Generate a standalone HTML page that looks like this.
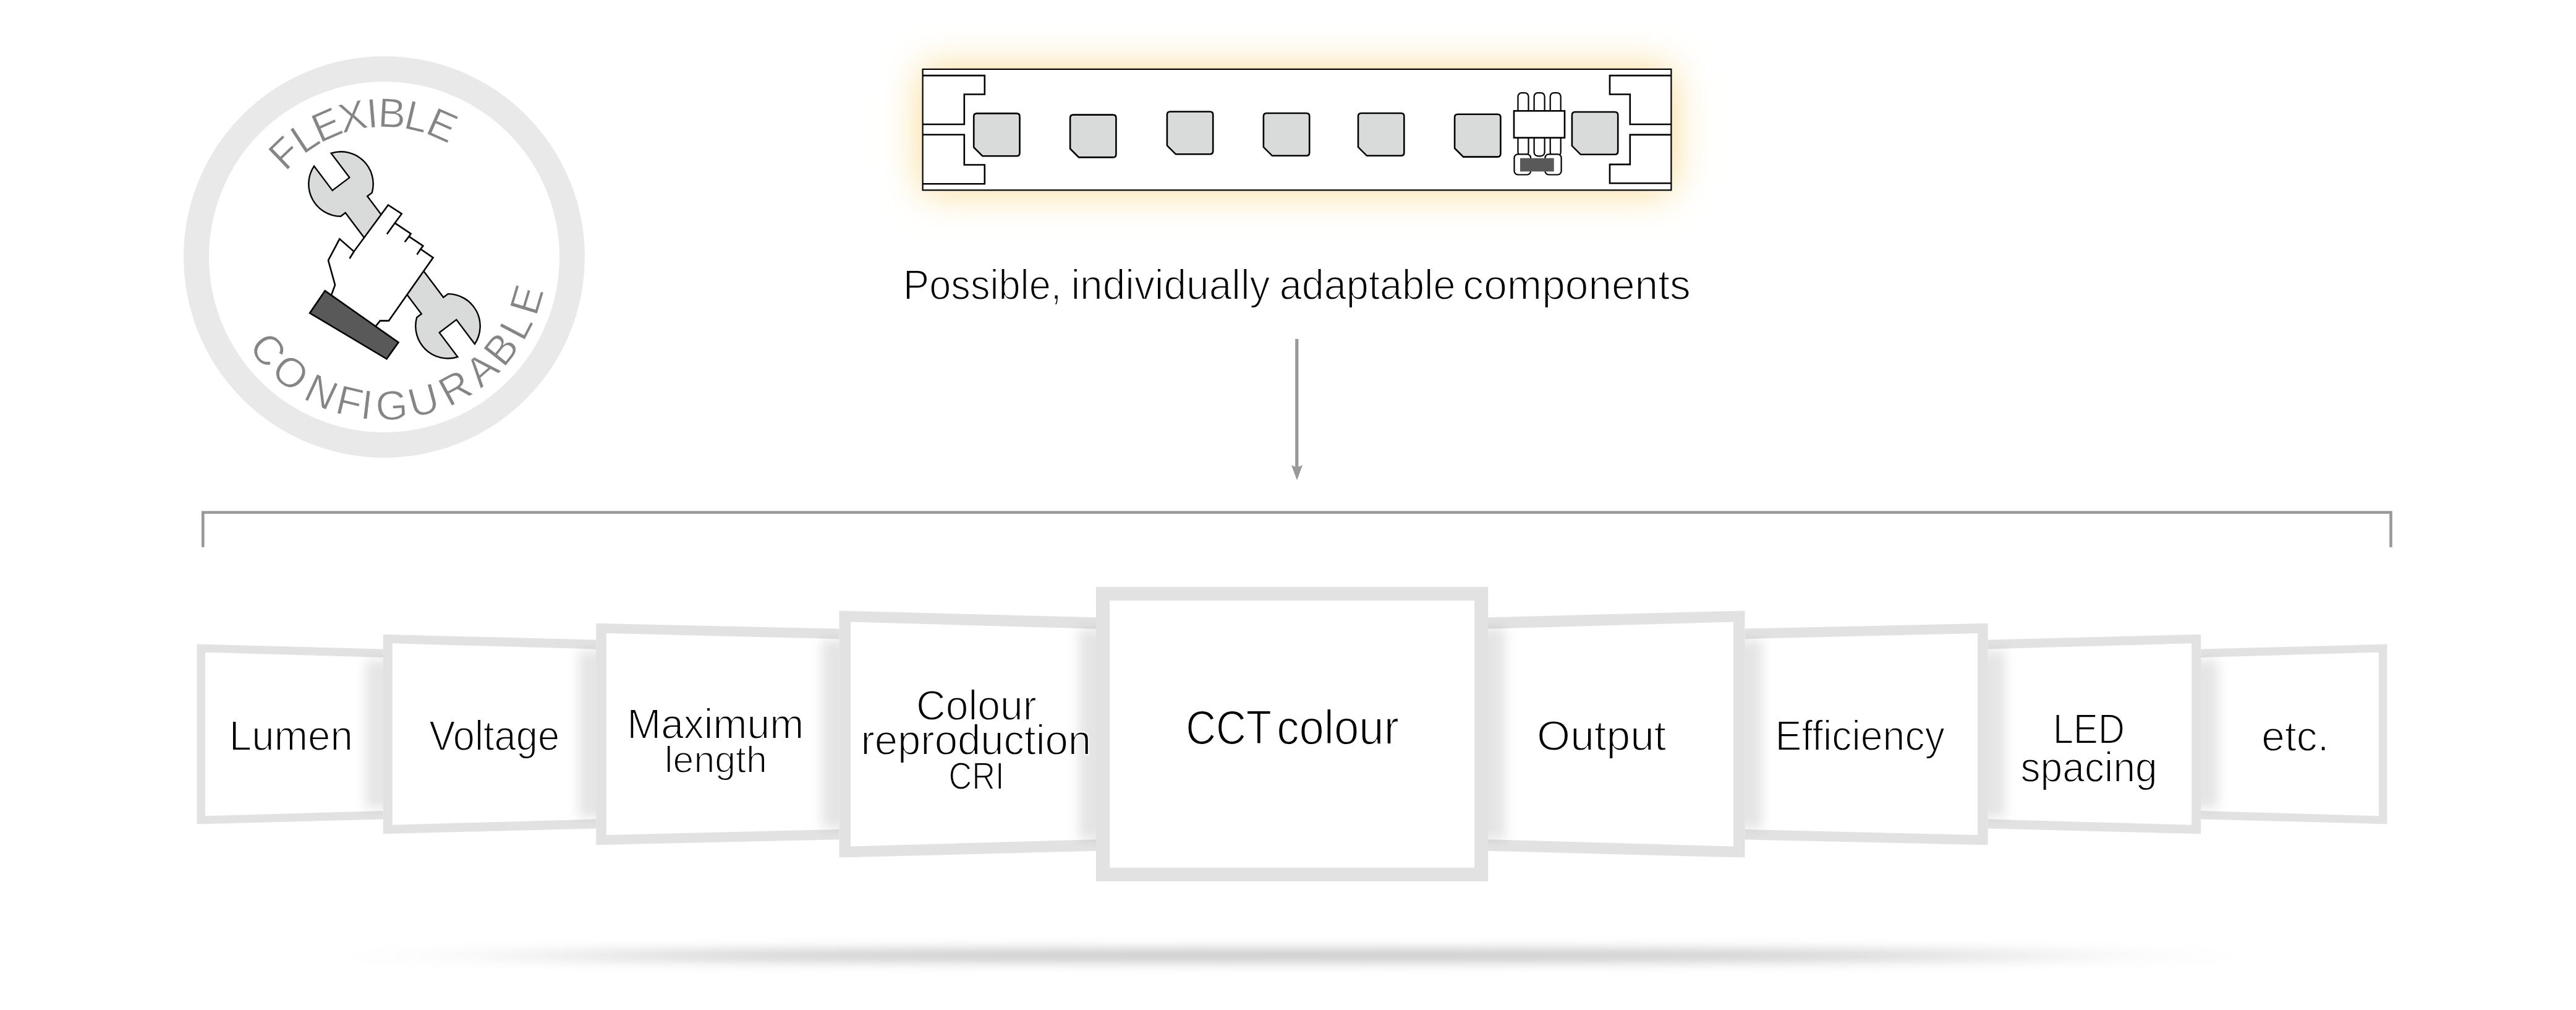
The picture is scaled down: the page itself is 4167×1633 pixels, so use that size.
<!DOCTYPE html>
<html><head><meta charset="utf-8"><style>
html,body{margin:0;padding:0;background:#fff;overflow:hidden;}
svg{display:block;}
.bt{font-family:"Liberation Sans", sans-serif;font-size:67px;fill:#858585;stroke:#fff;stroke-width:1px;}
.pt{font-family:"Liberation Sans", sans-serif;fill:#000;stroke:#fff;stroke-width:1.8px;}
</style></head><body>
<svg width="4167" height="1633" viewBox="0 0 4167 1633">
<defs>
<filter id="glow" x="-20%" y="-80%" width="140%" height="260%"><feFlood flood-color="#f9d98a"/><feComposite in2="SourceAlpha" operator="in"/><feGaussianBlur stdDeviation="33"/></filter>
<filter id="sh" x="-100%" y="-50%" width="300%" height="200%"><feGaussianBlur stdDeviation="9"/></filter>
<filter id="flb" x="-20%" y="-600%" width="140%" height="1300%"><feGaussianBlur stdDeviation="170 10"/></filter>
<clipPath id="cp0"><polygon points="318.50,1041.60 619.80,1049.40 619.80,1324.60 318.50,1332.40"/></clipPath>
<clipPath id="cp1"><polygon points="619.80,1025.70 964.30,1034.50 964.30,1339.50 619.80,1348.30"/></clipPath>
<clipPath id="cp2"><polygon points="964.30,1007.80 1357.50,1016.60 1357.50,1357.40 964.30,1366.20"/></clipPath>
<clipPath id="cp3"><polygon points="1357.50,987.40 1773.00,998.30 1773.00,1375.70 1357.50,1386.60"/></clipPath>
<clipPath id="cp0m"><polygon points="3861.50,1041.60 3560.20,1049.40 3560.20,1324.60 3861.50,1332.40"/></clipPath>
<clipPath id="cp1m"><polygon points="3560.20,1025.70 3215.70,1034.50 3215.70,1339.50 3560.20,1348.30"/></clipPath>
<clipPath id="cp2m"><polygon points="3215.70,1007.80 2822.50,1016.60 2822.50,1357.40 3215.70,1366.20"/></clipPath>
<clipPath id="cp3m"><polygon points="2822.50,987.40 2407.00,998.30 2407.00,1375.70 2822.50,1386.60"/></clipPath>
</defs>
<rect width="4167" height="1633" fill="#fff"/>
<ellipse cx="2090" cy="1545" rx="1250" ry="9" fill="#000" fill-opacity="0.27" filter="url(#flb)"/>
<circle cx="621.5" cy="415.5" r="304" fill="none" stroke="#e9e9e9" stroke-width="41"/>
<path d="M535.70,247.74 L565.32,287.09 L537.68,307.91 L508.05,268.56 A52.2,52.2 0 0 0 551.16,349.70 L558.72,344.01 L681.79,507.49 L674.23,513.18 A52.2,52.2 0 0 0 740.29,577.05 L710.67,537.70 L738.31,516.89 L767.94,556.24 A52.2,52.2 0 0 0 724.83,475.09 L717.27,480.78 L594.20,317.31 L601.76,311.61 A52.2,52.2 0 0 0 535.70,247.74 Z" fill="#d9dada" stroke="#000" stroke-width="2.4" stroke-linejoin="miter"/>
<polygon points="536.4,476 542,460.7 531,421 549.3,386.3 572.5,406.7 627.9,331.5 649.7,345.7 638.8,360.6 664.6,377.8 661.6,382.4 684.4,397.6 680.4,402.8 700.6,416.6 628.9,518.6 614.8,518.6 608.1,527" fill="#fff"/>
<path d="M536.4,476 L542,460.7 L531,421 L549.3,386.3 L572.5,406.7 L627.9,331.5 L649.7,345.7 L638.8,360.6 L664.6,377.8 L661.6,382.4 L684.4,397.6 L680.4,402.8 L700.6,416.6 L628.9,518.6 L614.8,518.6 L608.1,527" fill="none" stroke="#000" stroke-width="2.6" stroke-linejoin="miter"/>
<line x1="572.5" y1="406.7" x2="565.5" y2="418" stroke="#000" stroke-width="2.6"/>
<line x1="638.8" y1="360.6" x2="625.9" y2="378.4" stroke="#000" stroke-width="2.6"/>
<line x1="661.6" y1="382.4" x2="654.7" y2="391.3" stroke="#000" stroke-width="2.6"/>
<line x1="680.4" y1="402.8" x2="674.5" y2="411.5" stroke="#000" stroke-width="2.6"/>
<polygon points="525.7,470.1 644.5,553.6 625.5,580.3 501.1,506.2" fill="#595959" stroke="#000" stroke-width="2.6"/>
<text transform="translate(460.23,247.33) rotate(-43.80)" x="0" y="23.05" text-anchor="middle" class="bt">F</text>
<text transform="translate(492.90,221.20) rotate(-33.50)" x="0" y="23.05" text-anchor="middle" class="bt">L</text>
<text transform="translate(528.22,201.99) rotate(-23.60)" x="0" y="23.05" text-anchor="middle" class="bt">E</text>
<text transform="translate(570.28,188.20) rotate(-12.70)" x="0" y="23.05" text-anchor="middle" class="bt">X</text>
<text transform="translate(602.00,183.32) rotate(-4.80)" x="0" y="23.05" text-anchor="middle" class="bt">I</text>
<text transform="translate(634.10,182.84) rotate(3.10)" x="0" y="23.05" text-anchor="middle" class="bt">B</text>
<text transform="translate(674.31,188.56) rotate(13.10)" x="0" y="23.05" text-anchor="middle" class="bt">L</text>
<text transform="translate(715.53,202.31) rotate(23.80)" x="0" y="23.05" text-anchor="middle" class="bt">E</text>
<text transform="translate(433.54,565.54) rotate(51.40)" x="0" y="23.05" text-anchor="middle" class="bt">C</text>
<text transform="translate(470.15,602.40) rotate(39.00)" x="0" y="23.05" text-anchor="middle" class="bt">O</text>
<text transform="translate(519.86,633.47) rotate(25.00)" x="0" y="23.05" text-anchor="middle" class="bt">N</text>
<text transform="translate(565.36,649.35) rotate(13.50)" x="0" y="23.05" text-anchor="middle" class="bt">F</text>
<text transform="translate(593.44,654.36) rotate(6.70)" x="0" y="23.05" text-anchor="middle" class="bt">I</text>
<text transform="translate(633.67,655.69) rotate(-2.90)" x="0" y="23.05" text-anchor="middle" class="bt">G</text>
<text transform="translate(684.96,647.48) rotate(-15.30)" x="0" y="23.05" text-anchor="middle" class="bt">U</text>
<text transform="translate(736.26,626.86) rotate(-28.50)" x="0" y="23.05" text-anchor="middle" class="bt">R</text>
<text transform="translate(779.28,597.01) rotate(-41.00)" x="0" y="23.05" text-anchor="middle" class="bt">A</text>
<text transform="translate(810.50,564.23) rotate(-51.80)" x="0" y="23.05" text-anchor="middle" class="bt">B</text>
<text transform="translate(834.63,526.92) rotate(-62.40)" x="0" y="23.05" text-anchor="middle" class="bt">L</text>
<text transform="translate(851.86,484.61) rotate(-73.30)" x="0" y="23.05" text-anchor="middle" class="bt">E</text>
<rect x="1492.6" y="111.9" width="1210.8000000000002" height="195.49999999999997" fill="#fff" filter="url(#glow)"/>
<rect x="1492.6" y="111.9" width="1210.8000000000002" height="195.49999999999997" fill="#fff" stroke="#000" stroke-width="2.2"/>
<path d="M1492.6,122.1 L1592.8,122.1 L1592.8,152.5 L1559.8,152.5 L1559.8,201 L1492.6,201" fill="none" stroke="#000" stroke-width="2.6"/>
<path d="M1492.6,217.8 L1559.8,217.8 L1559.8,266.5 L1592.8,266.5 L1592.8,297.2 L1492.6,297.2" fill="none" stroke="#000" stroke-width="2.6"/>
<path d="M2703.4,122.1 L2604,122.1 L2604,152.5 L2636.8,152.5 L2636.8,201 L2703.4,201" fill="none" stroke="#000" stroke-width="2.6"/>
<path d="M2703.4,217.9 L2636.8,217.9 L2636.8,265.9 L2604,265.9 L2604,296.3 L2703.4,296.3" fill="none" stroke="#000" stroke-width="2.6"/>
<path d="M1575.2,188.4 Q1575.2,183.4 1580.2,183.4 L1644.5,183.4 Q1649.5,183.4 1649.5,188.4 L1649.5,247.2 Q1649.5,252.2 1644.5,252.2 L1589.2,252.2 L1575.2,238.2 Z" fill="#d9dada" stroke="#000" stroke-width="2.6"/>
<path d="M1731.1,190.6 Q1731.1,185.6 1736.1,185.6 L1800.3999999999999,185.6 Q1805.3999999999999,185.6 1805.3999999999999,190.6 L1805.3999999999999,249.39999999999998 Q1805.3999999999999,254.39999999999998 1800.3999999999999,254.39999999999998 L1745.1,254.39999999999998 L1731.1,240.39999999999998 Z" fill="#d9dada" stroke="#000" stroke-width="2.6"/>
<path d="M1887.9,185.5 Q1887.9,180.5 1892.9,180.5 L1957.2,180.5 Q1962.2,180.5 1962.2,185.5 L1962.2,244.3 Q1962.2,249.3 1957.2,249.3 L1901.9,249.3 L1887.9,235.3 Z" fill="#d9dada" stroke="#000" stroke-width="2.6"/>
<path d="M2043.9,188 Q2043.9,183 2048.9,183 L2113.2000000000003,183 Q2118.2000000000003,183 2118.2000000000003,188 L2118.2000000000003,246.8 Q2118.2000000000003,251.8 2113.2000000000003,251.8 L2057.9,251.8 L2043.9,237.8 Z" fill="#d9dada" stroke="#000" stroke-width="2.6"/>
<path d="M2197,188 Q2197,183 2202,183 L2266.3,183 Q2271.3,183 2271.3,188 L2271.3,246.8 Q2271.3,251.8 2266.3,251.8 L2211,251.8 L2197,237.8 Z" fill="#d9dada" stroke="#000" stroke-width="2.6"/>
<path d="M2353.1,189.8 Q2353.1,184.8 2358.1,184.8 L2422.4,184.8 Q2427.4,184.8 2427.4,189.8 L2427.4,248.60000000000002 Q2427.4,253.60000000000002 2422.4,253.60000000000002 L2367.1,253.60000000000002 L2353.1,239.60000000000002 Z" fill="#d9dada" stroke="#000" stroke-width="2.6"/>
<path d="M2542.9,186 Q2542.9,181 2547.9,181 L2612.2000000000003,181 Q2617.2000000000003,181 2617.2000000000003,186 L2617.2000000000003,244.8 Q2617.2000000000003,249.8 2612.2000000000003,249.8 L2556.9,249.8 L2542.9,235.8 Z" fill="#d9dada" stroke="#000" stroke-width="2.6"/>
<rect x="2455.5" y="150.1" width="17" height="40" rx="6" fill="#fff" stroke="#000" stroke-width="2.2"/>
<rect x="2455.5" y="212" width="17" height="40.3" rx="6" fill="#fff" stroke="#000" stroke-width="2.2"/>
<rect x="2481.6" y="150.1" width="17" height="40" rx="6" fill="#fff" stroke="#000" stroke-width="2.2"/>
<rect x="2481.6" y="212" width="17" height="40.3" rx="6" fill="#fff" stroke="#000" stroke-width="2.2"/>
<rect x="2507.7" y="150.1" width="17" height="40" rx="6" fill="#fff" stroke="#000" stroke-width="2.2"/>
<rect x="2507.7" y="212" width="17" height="40.3" rx="6" fill="#fff" stroke="#000" stroke-width="2.2"/>
<rect x="2449" y="179.3" width="82" height="43.4" fill="#fff" stroke="#000" stroke-width="2.6"/>
<rect x="2449.5" y="249.3" width="26.6" height="33.2" rx="6" fill="#fff" stroke="#000" stroke-width="2.2"/>
<rect x="2499.4" y="249.3" width="26.2" height="33.2" rx="6" fill="#fff" stroke="#000" stroke-width="2.2"/>
<rect x="2459" y="255.7" width="54.7" height="21.6" fill="#595959"/>
<path d="M328.3,884.7 L328.3,828.45 L3867.5,828.45 L3867.5,884.7" fill="none" stroke="#999" stroke-width="4.6"/>
<line x1="2097.8" y1="548" x2="2097.8" y2="756" stroke="#999" stroke-width="5.2"/>
<path d="M2088.9,751.7 Q2098,758 2107.1,751.7 L2098,776.5 Z" fill="#999"/>
<polygon points="318.50,1041.60 619.80,1049.40 619.80,1324.60 318.50,1332.40" fill="#e2e2e2"/>
<polygon points="332.00,1054.75 619.80,1062.90 619.80,1311.10 332.00,1319.25" fill="#fff"/>
<g clip-path="url(#cp0)"><rect x="591.80" y="1067.40" width="68.00" height="239.20" fill="#000" fill-opacity="0.1" filter="url(#sh)"/></g>
<polygon points="619.80,1025.70 964.30,1034.50 964.30,1339.50 619.80,1348.30" fill="#e2e2e2"/>
<polygon points="634.80,1040.32 964.30,1049.50 964.30,1324.50 634.80,1333.68" fill="#fff"/>
<g clip-path="url(#cp1)"><rect x="936.30" y="1052.50" width="68.00" height="269.00" fill="#000" fill-opacity="0.1" filter="url(#sh)"/></g>
<polygon points="964.30,1007.80 1357.50,1016.60 1357.50,1357.40 964.30,1366.20" fill="#e2e2e2"/>
<polygon points="980.80,1023.93 1357.50,1033.10 1357.50,1340.90 980.80,1350.07" fill="#fff"/>
<g clip-path="url(#cp2)"><rect x="1329.50" y="1034.60" width="68.00" height="304.80" fill="#000" fill-opacity="0.1" filter="url(#sh)"/></g>
<polygon points="1357.50,987.40 1773.00,998.30 1773.00,1375.70 1357.50,1386.60" fill="#e2e2e2"/>
<polygon points="1376.00,1005.41 1773.00,1016.80 1773.00,1357.20 1376.00,1368.59" fill="#fff"/>
<g clip-path="url(#cp3)"><rect x="1745.00" y="1016.30" width="68.00" height="341.40" fill="#000" fill-opacity="0.1" filter="url(#sh)"/></g>
<polygon points="3861.50,1041.60 3560.20,1049.40 3560.20,1324.60 3861.50,1332.40" fill="#e2e2e2"/>
<polygon points="3848.00,1054.75 3560.20,1062.90 3560.20,1311.10 3848.00,1319.25" fill="#fff"/>
<g clip-path="url(#cp0m)"><rect x="3520.20" y="1067.40" width="68.00" height="239.20" fill="#000" fill-opacity="0.1" filter="url(#sh)"/></g>
<polygon points="3560.20,1025.70 3215.70,1034.50 3215.70,1339.50 3560.20,1348.30" fill="#e2e2e2"/>
<polygon points="3545.20,1040.32 3215.70,1049.50 3215.70,1324.50 3545.20,1333.68" fill="#fff"/>
<g clip-path="url(#cp1m)"><rect x="3175.70" y="1052.50" width="68.00" height="269.00" fill="#000" fill-opacity="0.1" filter="url(#sh)"/></g>
<polygon points="3215.70,1007.80 2822.50,1016.60 2822.50,1357.40 3215.70,1366.20" fill="#e2e2e2"/>
<polygon points="3199.20,1023.93 2822.50,1033.10 2822.50,1340.90 3199.20,1350.07" fill="#fff"/>
<g clip-path="url(#cp2m)"><rect x="2782.50" y="1034.60" width="68.00" height="304.80" fill="#000" fill-opacity="0.1" filter="url(#sh)"/></g>
<polygon points="2822.50,987.40 2407.00,998.30 2407.00,1375.70 2822.50,1386.60" fill="#e2e2e2"/>
<polygon points="2804.00,1005.41 2407.00,1016.80 2407.00,1357.20 2804.00,1368.59" fill="#fff"/>
<g clip-path="url(#cp3m)"><rect x="2367.00" y="1016.30" width="68.00" height="341.40" fill="#000" fill-opacity="0.1" filter="url(#sh)"/></g>
<rect x="1773" y="949" width="634.2" height="476" fill="#e2e2e2"/>
<rect x="1795" y="971" width="590.2" height="432" fill="#fff"/>
<text x="1461.10" y="484.0" font-size="69" textLength="256.20" lengthAdjust="spacingAndGlyphs" class="pt">Possible,</text>
<text x="1732.48" y="484.0" font-size="69" textLength="321.96" lengthAdjust="spacingAndGlyphs" class="pt">individually</text>
<text x="2069.69" y="484.0" font-size="69" textLength="284.83" lengthAdjust="spacingAndGlyphs" class="pt">adaptable</text>
<text x="2366.33" y="484.0" font-size="69" textLength="368.55" lengthAdjust="spacingAndGlyphs" class="pt">components</text>
<text x="370.84" y="1213.1" font-size="69" textLength="200.05" lengthAdjust="spacingAndGlyphs" class="pt">Lumen</text>
<text x="694.15" y="1213.1" font-size="69" textLength="210.98" lengthAdjust="spacingAndGlyphs" class="pt">Voltage</text>
<text x="1014.15" y="1193.8" font-size="69" textLength="286.09" lengthAdjust="spacingAndGlyphs" class="pt">Maximum</text>
<text x="1075.08" y="1248.9" font-size="62" textLength="165.62" lengthAdjust="spacingAndGlyphs" class="pt">length</text>
<text x="1482.07" y="1164.0" font-size="69" textLength="194.61" lengthAdjust="spacingAndGlyphs" class="pt">Colour</text>
<text x="1392.45" y="1219.9" font-size="69" textLength="372.70" lengthAdjust="spacingAndGlyphs" class="pt">reproduction</text>
<text x="1534.44" y="1275.9" font-size="63" textLength="90.10" lengthAdjust="spacingAndGlyphs" class="pt">CRI</text>
<text x="1918.21" y="1202.9" font-size="77" textLength="138.71" lengthAdjust="spacingAndGlyphs" class="pt">CCT</text>
<text x="2065.20" y="1202.9" font-size="77" textLength="197.63" lengthAdjust="spacingAndGlyphs" class="pt">colour</text>
<text x="2486.08" y="1213.1" font-size="69" textLength="209.16" lengthAdjust="spacingAndGlyphs" class="pt">Output</text>
<text x="2871.43" y="1213.0" font-size="69" textLength="274.42" lengthAdjust="spacingAndGlyphs" class="pt">Efficiency</text>
<text x="3320.92" y="1201.8" font-size="69" textLength="116.06" lengthAdjust="spacingAndGlyphs" class="pt">LED</text>
<text x="3268.46" y="1264.0" font-size="69" textLength="221.36" lengthAdjust="spacingAndGlyphs" class="pt">spacing</text>
<text x="3658.37" y="1213.6" font-size="69" textLength="109.14" lengthAdjust="spacingAndGlyphs" class="pt">etc.</text>
</svg>
</body></html>
